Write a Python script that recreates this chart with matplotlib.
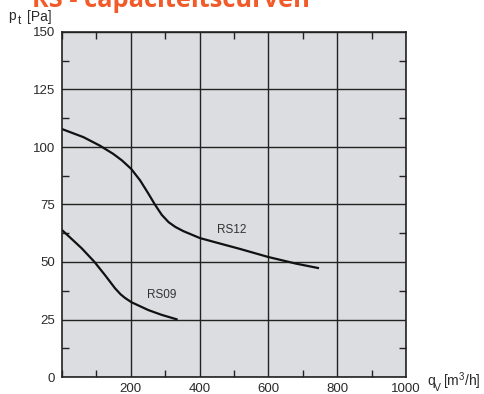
import numpy as np
import matplotlib.pyplot as plt
from matplotlib.ticker import MultipleLocator

plt.rcParams['font.family'] = ['Liberation Sans', 'DejaVu Sans']

# fan curves: flow q_V [m3/h] vs total pressure p_t [Pa]
rs12_q = [0, 62, 110, 149, 174, 201, 227, 250, 270, 290, 310, 330, 353, 401, 450, 517,
          599, 680, 744]
rs12_p = [107.8, 104.3, 100.6, 97.0, 94.2, 90.5, 85.5, 80.0, 75.0, 70.5, 67.3, 65.2, 63.4,
          60.4, 58.4, 55.7, 52.2, 49.3, 47.4]

rs09_q = [0, 57, 94, 125, 154, 170, 183, 202, 251, 290, 333]
rs09_p = [63.9, 56, 50.1, 44.3, 38.6, 36.0, 34.4, 32.5, 29.1, 27, 25.1]

x_ticks = [200, 400, 600, 800, 1000]
y_ticks = [0, 25, 50, 75, 100, 125, 150]

ink = '#222222'
txt = '#2a2a2a'

W, H = 484, 394
fig = plt.figure(figsize=(W / 100, H / 100), dpi=100)
ax = fig.add_axes([62 / W, 1 - 377 / H, 344 / W, 345 / H])
ax.set_facecolor('#dcdde0')

ax.plot(rs12_q, rs12_p, color='#111111', lw=1.6)
ax.plot(rs09_q, rs09_p, color='#111111', lw=1.6)
ax.text(494, 64, 'RS12', fontsize=8.5, color='#333333', ha='center', va='center')
ax.text(291, 35.6, 'RS09', fontsize=8.5, color='#333333', ha='center', va='center')

ax.set_xlim(0, 1000)
ax.set_ylim(0, 150)
ax.set_xticks(x_ticks)
ax.set_yticks(y_ticks)
ax.xaxis.set_minor_locator(MultipleLocator(100))
ax.yaxis.set_minor_locator(MultipleLocator(12.5))
ax.tick_params(which='both', direction='in', top=True, right=True, color=ink,
               labelsize=9.5, labelcolor=txt)
ax.tick_params(which='major', length=0)
ax.tick_params(axis='x', which='major', pad=4)
ax.tick_params(axis='y', which='major', pad=5)
ax.tick_params(which='minor', length=5, width=1)
ax.grid(True, which='major', color=ink, lw=1)
for s in ax.spines.values():
    s.set_color(ink)
    s.set_linewidth(1.2)


def put(x, y, s, size):
    fig.text(x / W, 1 - y / H, s, fontsize=size, color=txt, ha='left', va='baseline')


# axis labels with subscripts, placed beside the axes
put(8, 20, 'p', 10)
put(18, 24.5, 't', 8.5)
put(27, 20.5, '[Pa]', 10)
put(427, 385, 'q', 10)
put(434, 391, 'V', 7.5)
put(443, 386, r'[m$^{\mathregular{3}}$/h]', 10)

fig.text(32 / W, 1 - 7 / H, 'RS - capaciteitscurven', fontsize=18.3, fontweight='bold',
         family=['Open Sans', 'DejaVu Sans'], color='#f15a29', ha='left', va='baseline')

fig.savefig('out.png', dpi=100)
